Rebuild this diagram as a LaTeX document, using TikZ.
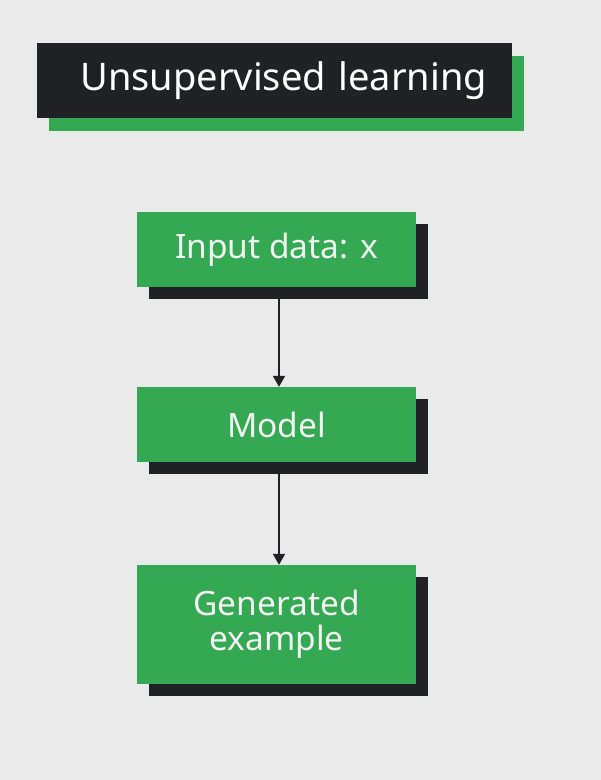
\documentclass[tikz,border=0pt]{standalone}
\usepackage{fontspec}
\setmainfont{Noto Sans}
\usetikzlibrary{arrows.meta,shadows}
\definecolor{ggreen}{HTML}{34A853}
\definecolor{gblack}{HTML}{202124}
\definecolor{paper}{HTML}{EAEAEA}
\definecolor{boxtext}{HTML}{F1F5F1}

\begin{document}
\begin{tikzpicture}[x=1pt,y=-1pt,
  greenbox/.style={fill=ggreen,text=boxtext,minimum width=279pt,inner sep=0pt,align=center,
    font=\fontsize{33.5}{35}\selectfont,
    drop shadow={shadow xshift=12pt,shadow yshift=-12pt,fill=gblack,opacity=1}},
  arr/.style={line width=2pt,gblack,-{Triangle[width=12pt,length=11pt]}}]
\fill [paper] (0,0) rectangle (601,780);
%\draw [red] (37,43) rectangle (512,118);
\node [fill=gblack,text=white,minimum width=475pt,minimum height=75pt,text width=425pt,inner xsep=25pt,
  align=right,font=\fontsize{38}{40}\selectfont,
  drop shadow={shadow xshift=12pt,shadow yshift=-13pt,fill=ggreen,opacity=1}] (title) at (274.5,80.5) {Unsupervised learning};
\node [greenbox,minimum height=75pt] (input) at (276.5,249.5) {Input data: x};
\node [greenbox,minimum height=75pt] (model) at (276.5,424.5) {Model};
\node [greenbox,minimum height=119pt] (gen) at (276.5,624.5) {Generated\\example};
\draw [arr] ([xshift=2.5pt]input.south) -- ([xshift=2.5pt]model.north);
\draw [arr] ([xshift=2.5pt]model.south) -- ([xshift=2.5pt]gen.north);
\end{tikzpicture}
\end{document}
